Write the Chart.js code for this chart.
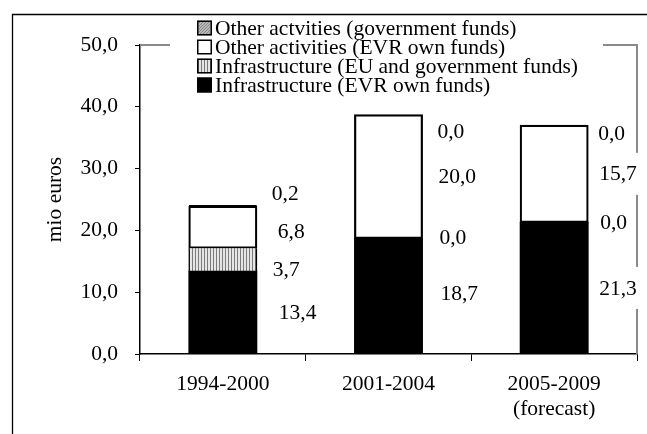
<!DOCTYPE html>
<html>
<head>
<meta charset="utf-8">
<script src="https://cdn.jsdelivr.net/npm/chart.js@4"></script>
<style>
  html, body { margin: 0; padding: 0; background: #fff; }
  #wrap { width: 647px; height: 434px; position: relative; }
</style>
</head>
<body>
<div id="wrap"><canvas id="c" width="647" height="434"></canvas></div>
<script>
// Periods on the category axis (second line is a note under the label)
const categories = ['1994-2000', '2001-2004', '2005-2009'];
const categoryNotes = ['', '', '(forecast)'];

// Investments, mio euros, stacked bottom to top
const infraOwnFunds   = [13.4, 18.7, 21.3];
const infraEuGovFunds = [3.7, 0.0, 0.0];
const otherOwnFunds   = [6.8, 20.0, 15.7];
const otherGovFunds   = [0.2, 0.0, 0.0];

const seriesNames = [
  'Infrastructure (EVR own funds)',
  'Infrastructure (EU and government funds)',
  'Other activities (EVR own funds)',
  'Other actvities (government funds)'
];

// Value axis ticks
const yTickMin = 0, yTickMax = 50, yTickStep = 10;

const FONT = '"Liberation Serif", "Times New Roman", serif';
const FS = 21.5;
const fmt = v => Number(v).toFixed(1).replace('.', ',');

function stripePattern() {
  const c = document.createElement('canvas');
  c.width = 3; c.height = 1;
  const g = c.getContext('2d');
  g.fillStyle = '#e6e6e6'; g.fillRect(0, 0, 3, 1);
  g.fillStyle = '#7a7a7a'; g.fillRect(0, 0, 1, 1);
  return g.createPattern(c, 'repeat');
}
function hatchPattern() {
  const c = document.createElement('canvas');
  c.width = 3; c.height = 3;
  const g = c.getContext('2d');
  g.fillStyle = '#b8b8b8'; g.fillRect(0, 0, 3, 3);
  g.fillStyle = '#888888';
  for (let i = 0; i < 3; i++) g.fillRect(2 - i, i, 1, 1);
  return g.createPattern(c, 'repeat');
}

const fills = ['#000000', stripePattern(), '#ffffff', hatchPattern()];
const borders = [0, { left: 1.5, right: 1.5, top: 0, bottom: 0 }, 2.2, 1.5];
const inflate = [0.5, 0.5, 0.5, 0];

// Value label offsets: [dx from bar's right edge, dy from segment middle]
const labelNudge = [
  [[22, 0], [18, -3], [11, 0]],
  [[16, 10], [17, -1], [12, 0]],
  [[21, 4], [16, 0], [11, 0]],
  [[15, -12], [15, 17], [10, 8]]
];

const framePlugin = {
  id: 'frame',
  beforeDraw(chart) {
    const ctx = chart.ctx;
    ctx.save();
    ctx.fillStyle = '#fff';
    ctx.fillRect(0, 0, chart.width, chart.height);
    ctx.strokeStyle = '#000';
    ctx.lineWidth = 1.3;
    ctx.beginPath();
    ctx.moveTo(12.5, chart.height + 2);
    ctx.lineTo(12.5, 14.5);
    ctx.lineTo(chart.width + 2, 14.5);
    ctx.stroke();
    ctx.restore();
  },
  beforeDatasetsDraw(chart) {
    const { ctx, chartArea: a } = chart;
    ctx.save();
    ctx.strokeStyle = '#8a8a8a';
    ctx.lineWidth = 2;
    ctx.beginPath();
    ctx.moveTo(a.left, a.top);
    ctx.lineTo(a.right, a.top);
    ctx.lineTo(a.right, a.bottom);
    ctx.stroke();
    ctx.restore();
  },
  afterDatasetsDraw(chart) {
    const ctx = chart.ctx;
    ctx.save();
    ctx.font = FS + 'px ' + FONT;
    ctx.textBaseline = 'middle';
    ctx.textAlign = 'left';
    const items = [];
    chart.data.datasets.forEach((ds, di) => {
      const meta = chart.getDatasetMeta(di);
      meta.data.forEach((bar, j) => {
        const p = bar.getProps(['x', 'y', 'base', 'width'], true);
        const [dx, dy] = labelNudge[di][j];
        const text = fmt(ds.data[j]);
        const tx = p.x + p.width / 2 + dx;
        const ty = (p.y + p.base) / 2 + dy;
        items.push({ text, tx, ty, w: ctx.measureText(text).width });
      });
    });
    ctx.fillStyle = '#fff';
    items.forEach(it => ctx.fillRect(it.tx - 7, it.ty - 21, it.w + 14, 42));
    ctx.fillStyle = '#000';
    items.forEach(it => ctx.fillText(it.text, it.tx, it.ty + 1));

    // Legend, top series first
    ctx.fillStyle = '#fff';
    ctx.fillRect(170, 17, 433, 82);
    const rowY = [28, 47, 66, 85];
    for (let k = 0; k < 4; k++) {
      const di = 3 - k;
      const y = rowY[k];
      ctx.fillStyle = fills[di];
      ctx.fillRect(197, y - 7.5, 15, 15);
      ctx.strokeStyle = '#000';
      ctx.lineWidth = 1.5;
      ctx.strokeRect(197.75, y - 6.75, 13.5, 13.5);
      ctx.fillStyle = '#000';
      ctx.fillText(chart.data.datasets[di].label, 215, y + 1);
    }
    ctx.restore();
  }
};

Chart.defaults.color = '#000';
Chart.defaults.font.family = FONT;
Chart.defaults.font.size = FS;

const seriesData = [infraOwnFunds, infraEuGovFunds, otherOwnFunds, otherGovFunds];

new Chart(document.getElementById('c'), {
  type: 'bar',
  data: {
    labels: categories.map((c, i) => categoryNotes[i] ? [c, categoryNotes[i]] : c),
    datasets: seriesData.map((d, i) => ({
      label: seriesNames[i],
      data: d,
      backgroundColor: fills[i],
      borderColor: '#000',
      borderWidth: borders[i],
      borderSkipped: false,
      inflateAmount: inflate[i],
      categoryPercentage: 1,
      barPercentage: 0.41
    }))
  },
  options: {
    responsive: false,
    animation: false,
    devicePixelRatio: 1,
    layout: { padding: { top: 45, right: 10, left: 0, bottom: 0 } },
    plugins: { legend: { display: false }, tooltip: { enabled: false } },
    scales: {
      x: {
        stacked: true,
        grid: { display: true, drawOnChartArea: false, drawTicks: true, tickLength: 7, color: '#000', offset: true },
        border: { display: true, color: '#000', width: 1.5 },
        ticks: { padding: 10, maxRotation: 0, font: { size: FS, family: FONT, lineHeight: 1.2 } },
        afterFit(s) { s.height = 80; }
      },
      y: {
        stacked: true,
        min: yTickMin,
        max: yTickMax,
        grid: { display: true, drawOnChartArea: false, drawTicks: true, tickLength: 5, color: '#000' },
        border: { display: true, color: '#000', width: 1.5 },
        ticks: { stepSize: yTickStep, padding: 17, callback: v => fmt(v) },
        title: { display: true, text: 'mio euros', font: { size: FS, family: FONT }, padding: { top: 42, bottom: 0 } },
        afterFit(s) { s.width = 140; }
      }
    }
  },
  plugins: [framePlugin]
});
</script>
</body>
</html>
